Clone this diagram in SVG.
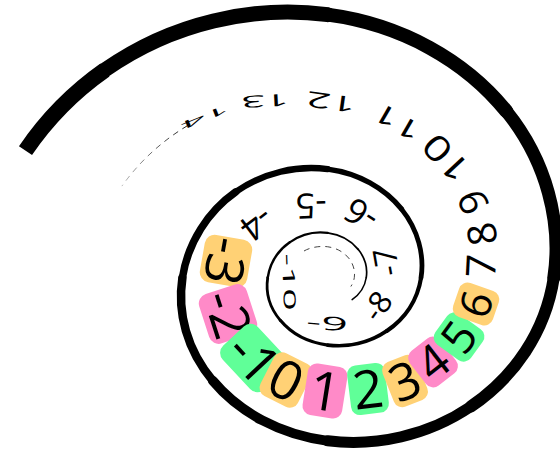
<svg xmlns="http://www.w3.org/2000/svg" width="560" height="452" viewBox="0 0 560 452">
<defs>
<style>
.sp{fill:none;stroke:#000;stroke-linecap:round}
.t{font-family:"Open Sans","Noto Sans","DejaVu Sans",sans-serif;text-anchor:middle;fill:#000}
.o{fill:#ffd175}.p{fill:#ff8ac8}.g{fill:#60ff98}
.d{fill:none;stroke-width:1;stroke-dasharray:6 5}
</style>
<linearGradient id="fade" gradientUnits="userSpaceOnUse" x1="188" y1="126" x2="122" y2="186">
<stop offset="0" stop-color="#222"/><stop offset="1" stop-color="#bbb"/>
</linearGradient>
</defs>
<rect width="560" height="452" fill="#fff"/>
<g id="connectors">
<path class="sp" style="stroke-linecap:butt" stroke-width="15.8" d="M25.5,150.6 C47.13,118.67 74.18,91.55 104.93,69.95"/>
<path class="sp" stroke-width="15" d="M104.93,69.95 C172.01,22.83 253.24,4.87 327.7,14.65"/>
<path class="sp" stroke-width="14" d="M327.7,14.65 C402.16,24.43 465.76,61.02 506.27,111.17"/>
<path class="sp" stroke-width="13" d="M506.27,111.17 C546.78,161.32 562.2,223.03 553.8,277.7"/>
<path class="sp" stroke-width="12" d="M553.8,277.7 C545.4,332.37 513.95,377.31 470.84,406.53"/>
<path class="sp" stroke-width="11" d="M470.84,406.53 C427.73,435.75 375.55,446.88 327.7,440.82"/>
<path class="sp" stroke-width="9.8" d="M327.7,440.82 C279.85,434.76 238.99,412.07 212.96,380.97"/>
<path class="sp" stroke-width="8.5" d="M212.96,380.97 C186.93,349.87 177.02,312.83 182.42,277.7"/>
<path class="sp" stroke-width="7.5" d="M182.42,277.7 C187.82,242.57 208.03,211.38 235.73,191.92"/>
<path class="sp" stroke-width="6.3" d="M235.73,191.92 C263.43,172.46 296.95,165.05 327.7,169.09"/>
<path class="sp" stroke-width="5.3" d="M327.7,169.09 C358.45,173.13 384.71,188.23 401.43,208.94"/>
<path class="sp" stroke-width="4.8" d="M401.43,208.94 C418.15,229.65 424.52,255.13 421.05,277.7"/>
<path class="sp" stroke-width="4.2" d="M421.05,277.7 C417.58,300.27 404.6,318.83 386.8,330.89"/>
<path class="sp" stroke-width="3.7" d="M386.8,330.89 C369,342.95 347.46,347.55 327.7,345.05"/>
<path class="sp" stroke-width="3.2" d="M327.7,345.05 C307.94,342.55 291.07,333.18 280.32,320.34"/>
<path class="sp" stroke-width="2.8" d="M280.32,320.34 C269.57,307.5 265.48,292.21 267.71,277.7"/>
<path class="sp" stroke-width="2.4" d="M267.71,277.7 C269.94,263.19 278.28,250.31 289.72,242.28"/>
<path class="sp" stroke-width="2.1" d="M289.72,242.28 C301.16,234.25 315.01,231.19 327.7,232.86"/>
<path class="sp" stroke-width="1.9" d="M327.7,232.86 C340.39,234.53 351.24,240.76 358.14,249.31"/>
<path class="sp" stroke-width="1.7" d="M358.14,249.31 C365.04,257.86 367.67,268.38 366.24,277.7"/>
<path class="sp" stroke-width="1.5" d="M366.24,277.7 C364.81,287.02 359.45,294.68 352.1,299.66"/>
<path class="d" stroke="url(#fade)" d="M187.4,125.7 C162.2,140.8 139.5,161.4 121.9,186.1"/>
<path class="d" stroke="#444" d="M304,251 C309.4,247.76 318.94,245.61 327.7,246.76 C336.46,247.91 343.94,252.2 348.7,258.1 C353.46,264 355.29,271.27 354.3,277.7 C353.8,280.94 352.59,283.89 350.85,286.5"/>
</g>
<g id="n-3" transform="translate(226,261) rotate(100)"><rect class="o" x="-24" y="-24" width="48" height="48" rx="10"/><text class="t" font-size="53" y="19">-3</text></g>
<g id="n-2" transform="translate(228,314) rotate(72)"><rect class="p" x="-26" y="-25" width="52" height="50" rx="10"/><text class="t" font-size="53" y="19">-2</text></g>
<g id="n-1" transform="translate(254,358) rotate(47)"><rect class="g" x="-30" y="-24" width="60" height="48" rx="10"/><text class="t" font-size="54" y="19.4">-1</text></g>
<g id="n0" transform="translate(286,380) rotate(27)"><rect class="o" x="-21" y="-24" width="42" height="48" rx="9"/><text class="t" font-size="54" y="19.4">0</text></g>
<g id="n1" transform="translate(325,391) rotate(9)"><rect class="p" x="-20" y="-26" width="40" height="52" rx="9"/><text class="t" font-size="54" y="19.4">1</text></g>
<g id="n2" transform="translate(368,389) rotate(-7)"><rect class="g" x="-19" y="-25" width="38" height="50" rx="9"/><text class="t" font-size="53" y="19">2</text></g>
<g id="n3" transform="translate(405,381) rotate(-22)"><rect class="o" x="-18" y="-24" width="36" height="48" rx="9"/><text class="t" font-size="51" y="18.3">3</text></g>
<g id="n4" transform="translate(433,362) rotate(-38)"><rect class="p" x="-19" y="-22" width="38" height="44" rx="9"/><text class="t" font-size="47" y="16.9">4</text></g>
<g id="n5" transform="translate(459,337) rotate(-54)"><rect class="g" x="-19" y="-22" width="38" height="44" rx="9"/><text class="t" font-size="46" y="16.5">5</text></g>
<g id="n6" transform="translate(476,304) rotate(-71)"><rect class="o" x="-18" y="-21" width="36" height="42" rx="9"/><text class="t" font-size="43" y="15.4">6</text></g>
<g id="n7" transform="translate(481,266) rotate(-87)"><text class="t" font-size="41" y="14.7">7</text></g>
<g id="n8" transform="translate(482,234) rotate(-100)"><text class="t" font-size="40" y="14.3">8</text></g>
<g id="n9" transform="translate(473,202) rotate(-113)"><text class="t" font-size="39" y="14">9</text></g>
<g id="n10" transform="translate(446,158) rotate(-133) scale(1.2,0.92)"><text class="t" font-size="38" y="13.6">10</text></g>
<g id="n11" transform="translate(397,122) rotate(-150) scale(1.3,0.78)"><text class="t" font-size="34" y="12.2">11</text></g>
<g id="n12" transform="translate(331,102) rotate(-172) scale(1.4,0.7)"><text class="t" font-size="31" y="11.1">12</text></g>
<g id="n13" transform="translate(265,101) rotate(177) scale(1.4,0.55)"><text class="t" font-size="30" y="10.8">13</text></g>
<g id="n14" transform="translate(205,117) rotate(158) scale(1.6,0.38)"><text class="t" font-size="28" y="10">14</text></g>
<g id="n-4" transform="translate(257,224) rotate(143)"><text class="t" font-size="35" y="12.6">-4</text></g>
<g id="n-5" transform="translate(311,206) rotate(178)"><text class="t" font-size="35" y="12.6">-5</text></g>
<g id="n-6" transform="translate(361,215) rotate(-147)"><text class="t" font-size="35" y="12.6">-6</text></g>
<g id="n-7" transform="translate(386,262) rotate(-100)"><text class="t" font-size="32" y="11.5">-7</text></g>
<g id="n-8" transform="translate(377,306) rotate(-55)"><text class="t" font-size="31" y="11.1">-8</text></g>
<g id="n-9" transform="translate(327,323) rotate(5) scale(1.6,0.65)"><text class="t" font-size="29" y="10.4">-9</text></g>
<g id="n-10" transform="translate(289,282) rotate(88) scale(1.45,0.62)"><text class="t" font-size="27" y="9.7">-10</text></g>
</svg>
